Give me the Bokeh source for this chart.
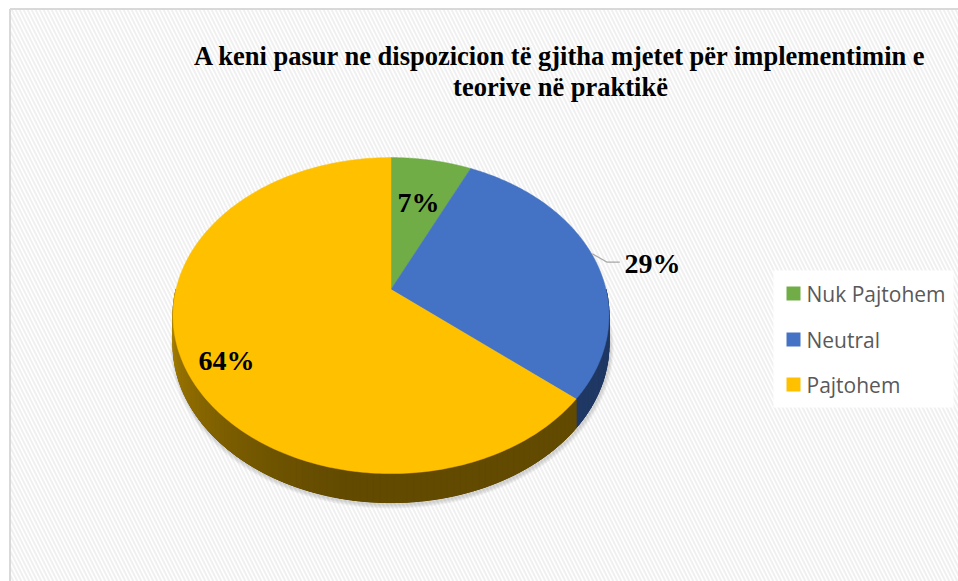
import numpy as np
from bokeh.plotting import figure
from bokeh.models import Range1d
from bokeh.core.properties import value
from bokeh.embed import file_html
from bokeh.resources import INLINE

# ---- data ----
categories = ["Nuk Pajtohem", "Neutral", "Pajtohem"]
shares = [7, 29, 64]
labels = ["7%", "29%", "64%"]
title_lines = ["A keni pasur ne dispozicion të gjitha mjetet për implementimin e",
               "teorive në praktikë"]

# ---- style ----
top_colors = ["#70AD47", "#4472C4", "#FFC000"]
side_dark = [(60, 95, 38), (31, 56, 100), (98, 74, 0)]
side_light = [(90, 140, 55), (45, 80, 140), (176, 134, 0)]

W, H = 958, 581
p = figure(width=W, height=H, output_backend="svg", toolbar_location=None,
           x_range=Range1d(0, W), y_range=Range1d(H, 0),
           x_axis_type=None, y_axis_type=None, min_border=0)
p.grid.visible = False
p.outline_line_color = None
p.background_fill_color = "white"
p.border_fill_color = "white"

# hatched background
p.quad(left=[9], right=[W], top=[8], bottom=[H], fill_color="white",
       line_color=None, hatch_pattern="left_diagonal_line",
       hatch_color="#f0f0f0", hatch_scale=8, hatch_weight=2)
# border left/top
p.segment(x0=[9.5, 9.5], y0=[H, 8.5], x1=[9.5, W], y1=[8.5, 8.5],
          line_color="#d9d9d9", line_width=2)

# pie geometry (perspective-projected disc)
cx, cy, a, b, k, depth = 390.5, 289.0, 215.0, 153.7, 0.165, 29.0

def ex(t):
    return cx + a * np.sin(t) / (1 + k * np.cos(t))

def ey(t):
    return cy - b * np.cos(t) / (1 + k * np.cos(t))

vals = np.array(shares, dtype=float)
fr = vals / vals.sum()
ends = np.cumsum(fr) * 2 * np.pi
starts = ends - fr * 2 * np.pi

# shadow
tt = np.linspace(0, 2 * np.pi, 240)
for g in range(7, 0, -1):
    p.patch(ex(tt) * (1 + g / 400) - cx * g / 400 + 1,
            ey(tt) + depth + 2 + g * 0.6 * (np.cos(tt) < 0) * -np.cos(tt),
            fill_color="#7f7f7f", fill_alpha=0.045, line_color=None)

# sides: solid base then gradient strips
bx, by, bc = [], [], []
sx, sy, sc = [], [], []
for i in range(len(shares)):
    a0 = max(starts[i], np.pi / 2)
    a1 = min(ends[i], 3 * np.pi / 2)
    if a1 <= a0:
        continue
    n = max(2, int((a1 - a0) / np.radians(1.5)))
    ts = np.linspace(a0, a1, n + 1)
    bx.append(list(ex(ts)) + list(ex(ts[::-1])))
    by.append(list(ey(ts)) + list(ey(ts[::-1]) + depth))
    bc.append("#%02x%02x%02x" % side_dark[i])
    for j in range(n):
        t1, t2 = ts[j], ts[j + 1]
        tm = 0.5 * (t1 + t2)
        f = np.clip((tm - np.pi * 1.05) / (np.pi * 0.45), 0, 1) ** 1.2
        c = tuple(int(side_dark[i][m] + f * (side_light[i][m] - side_dark[i][m])) for m in range(3))
        col = "#%02x%02x%02x" % c
        sx.append([ex(t1), ex(t2), ex(t2), ex(t1)])
        sy.append([ey(t1), ey(t2), ey(t2) + depth, ey(t1) + depth])
        sc.append(col)
p.patches(bx, by, fill_color=bc, line_color=bc, line_width=0.8)
p.patches(sx, sy, fill_color=sc, line_color=sc, line_width=1.0)

# top faces
tx, ty = [], []
for i in range(len(shares)):
    ts = np.linspace(starts[i], ends[i], 240)
    tx.append([cx] + list(ex(ts)))
    ty.append([cy] + list(ey(ts)))
p.patches(tx, ty, fill_color=top_colors, line_color=top_colors, line_width=0.5)

# leader line for 29%
p.line([591.7, 606.7, 619.3], [253.3, 261.7, 261.7], line_color="#a6a6a6", line_width=1.3)

# data labels
lab_font = value("Liberation Serif")
p.text(x=[418], y=[202], text=[labels[0]], text_font=lab_font, text_font_style="bold",
       text_font_size="28px", text_align="center", text_baseline="alphabetic", text_color="black")
p.text(x=[624], y=[263], text=[labels[1]], text_font=lab_font, text_font_style="bold",
       text_font_size="28px", text_align="left", text_baseline="alphabetic", text_color="black")
p.text(x=[198], y=[360], text=[labels[2]], text_font=lab_font, text_font_style="bold",
       text_font_size="28px", text_align="left", text_baseline="alphabetic", text_color="black")

# title
p.text(x=[560, 560], y=[55, 86], text=title_lines, text_font=lab_font,
       text_font_style="bold", text_font_size="26.5px", text_align="center",
       text_baseline="alphabetic", text_color="black")

# legend
p.quad(left=[773], right=[953], top=[270], bottom=[407], fill_color="white",
       line_color=None)
ly = [293, 339, 384]
p.rect(x=[793] * 3, y=ly, width=14, height=14, fill_color=top_colors, line_color=None)
p.text(x=[806] * 3, y=ly, text=categories, text_font=value("Open Sans"),
       text_font_size="21px", text_baseline="middle", text_align="left", text_color="#595959")

open("out.html", "w").write(file_html(p, INLINE))
